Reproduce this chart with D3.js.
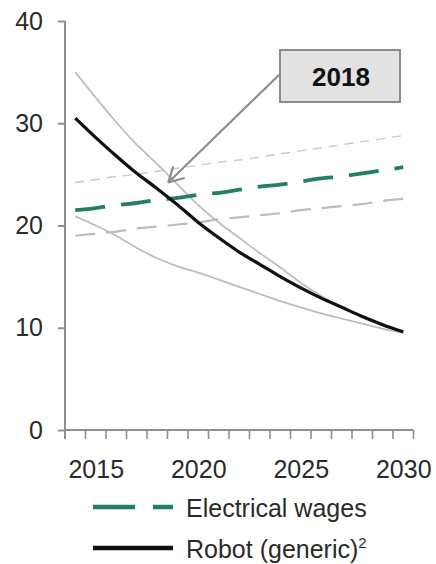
<!DOCTYPE html>
<html>
<head>
<meta charset="utf-8">
<style>
  body { margin: 0; background: #fff; }
  svg { display: block; font-family: "Liberation Sans", Arial, sans-serif; }
  .axis .domain { display: none; }
</style>
</head>
<body>
<svg width="436" height="564"></svg>
<script src="https://cdn.jsdelivr.net/npm/d3@7"></script>
<script>

// years on the category axis
var years = [2014, 2015, 2016, 2017, 2018, 2019, 2020, 2021, 2022, 2023, 2024, 2025, 2026, 2027, 2028, 2029, 2030];
var yearLabels = [2015, 2020, 2025, 2030];
var yTicks = [0, 10, 20, 30, 40];

// electrical wages (central + band)
var wages     = [21.5, 21.7, 22.0, 22.2, 22.5, 22.7, 23.0, 23.2, 23.5, 23.8, 24.0, 24.3, 24.6, 24.8, 25.1, 25.4, 25.7];
var wagesHigh = [24.2, 24.5, 24.8, 25.0, 25.3, 25.6, 25.9, 26.2, 26.4, 26.7, 27.0, 27.3, 27.6, 27.9, 28.2, 28.5, 28.8];
var wagesLow  = [19.0, 19.2, 19.4, 19.7, 19.9, 20.1, 20.3, 20.6, 20.8, 21.0, 21.2, 21.5, 21.7, 21.9, 22.1, 22.4, 22.6];

// robot cost (central + band)
var robot     = [30.5, 28.6, 26.8, 25.1, 23.6, 22.0, 20.3, 18.8, 17.4, 16.2, 15.0, 13.9, 12.9, 12.0, 11.1, 10.3, 9.6];
var robotHigh = [35.0, 32.5, 30.1, 27.9, 26.0, 24.0, 22.0, 20.3, 18.8, 17.3, 15.9, 14.4, 13.1, 12.0, 11.0, 10.2, 9.5];
var robotLow  = [20.9, 20.0, 19.0, 17.8, 16.8, 16.0, 15.4, 14.7, 14.0, 13.3, 12.6, 12.0, 11.4, 10.9, 10.4, 9.9, 9.5];

var svg = d3.select("svg");

var x = d3.scaleBand().domain(years).range([65, 413.5]).padding(0);
var y = d3.scaleLinear().domain([0, 40]).range([430, 21]);

var cx = function(yr) { return x(yr) + x.bandwidth() / 2; };

var line = d3.line()
    .x(function(d, i) { return cx(years[i]); })
    .y(function(d) { return y(d); })
    .curve(d3.curveMonotoneX);

// axes
var axisColor = "#8f8f8f";
var textColor = "#2a2a2a";

var yAxis = svg.append("g")
    .attr("class", "axis")
    .attr("transform", "translate(65,0)")
    .call(d3.axisLeft(y).tickValues(yTicks).tickSize(7).tickPadding(15));
yAxis.selectAll("line").attr("stroke", axisColor).attr("stroke-width", 2);
yAxis.selectAll("text").attr("font-size", 25).attr("fill", textColor);

svg.append("line")
    .attr("x1", 65).attr("x2", 65)
    .attr("y1", y(40)).attr("y2", y(0) + 9)
    .attr("stroke", axisColor).attr("stroke-width", 2);

svg.append("line")
    .attr("x1", 65).attr("x2", x.range()[1])
    .attr("y1", y(0)).attr("y2", y(0))
    .attr("stroke", axisColor).attr("stroke-width", 2);

// tick marks on category boundaries
svg.append("g").selectAll("line")
    .data(years.slice(1).map(function(d) { return x(d); }).concat([x.range()[1]]))
    .enter().append("line")
      .attr("x1", function(d) { return d; })
      .attr("x2", function(d) { return d; })
      .attr("y1", y(0))
      .attr("y2", y(0) + 9)
      .attr("stroke", axisColor)
      .attr("stroke-width", 1.6);

var xAxis = svg.append("g")
    .attr("class", "axis")
    .attr("transform", "translate(" + (x.bandwidth() / 2) + "," + y(0) + ")")
    .call(d3.axisBottom(d3.scaleLinear().domain([2014, 2030]).range([x(2014), x(2030)]))
      .tickValues(yearLabels).tickFormat(d3.format("d")).tickSize(0).tickPadding(48));
xAxis.selectAll("text").attr("font-size", 25).attr("fill", textColor).attr("dy", "0");

// series
var series = [
  {v: wagesHigh, color: "#c9c9c9", w: 1.4, dash: "9 7"},
  {v: wagesLow,  color: "#bcbcbc", w: 2.2, dash: "20 11"},
  {v: robotHigh, color: "#bdbdbd", w: 1.8, dash: null},
  {v: robotLow,  color: "#bdbdbd", w: 1.8, dash: null},
  {v: wages,     color: "#23805f", w: 3.8, dash: "30 16"},
  {v: robot,     color: "#111111", w: 3.2, dash: null}
];

svg.append("g").selectAll("path")
    .data(series)
    .enter().append("path")
      .attr("d", function(d) { return line(d.v); })
      .attr("fill", "none")
      .attr("stroke", function(d) { return d.color; })
      .attr("stroke-width", function(d) { return d.w; })
      .attr("stroke-dasharray", function(d) { return d.dash; });

// annotation arrow + box
var tipX = cx(2018) + 11, tipY = y(24.2);
var startX = 280, startY = 74;
svg.append("line")
    .attr("x1", startX).attr("y1", startY)
    .attr("x2", tipX).attr("y2", tipY)
    .attr("stroke", "#8c8c8c").attr("stroke-width", 2.2);

var ang = Math.atan2(startY - tipY, startX - tipX);
[-0.5, 0.5].forEach(function(a) {
  svg.append("line")
      .attr("x1", tipX).attr("y1", tipY)
      .attr("x2", tipX + 17 * Math.cos(ang + a))
      .attr("y2", tipY + 17 * Math.sin(ang + a))
      .attr("stroke", "#8c8c8c").attr("stroke-width", 2.2);
});

svg.append("rect")
    .attr("x", 280).attr("y", 50)
    .attr("width", 120).attr("height", 52)
    .attr("fill", "#e2e2e2")
    .attr("stroke", "#8c8c8c").attr("stroke-width", 2);

svg.append("text")
    .attr("x", 341).attr("y", 86)
    .attr("text-anchor", "middle")
    .attr("font-size", 26).attr("font-weight", "bold")
    .attr("fill", "#111")
    .text("2018");

// legend
var legend = svg.append("g");
legend.append("line")
    .attr("x1", 93).attr("x2", 173).attr("y1", 507).attr("y2", 507)
    .attr("stroke", "#23805f").attr("stroke-width", 4.5)
    .attr("stroke-dasharray", "42 18");
legend.append("line")
    .attr("x1", 93).attr("x2", 173).attr("y1", 548).attr("y2", 548)
    .attr("stroke", "#111").attr("stroke-width", 4.5);

legend.append("text")
    .attr("x", 186).attr("y", 517)
    .attr("font-size", 25).attr("fill", textColor)
    .text("Electrical wages");

var t2 = legend.append("text")
    .attr("x", 186).attr("y", 558)
    .attr("font-size", 25).attr("fill", textColor)
    .text("Robot (generic)");
t2.append("tspan")
    .attr("font-size", 15).attr("dy", -10)
    .text("2");

</script>
</body>
</html>
